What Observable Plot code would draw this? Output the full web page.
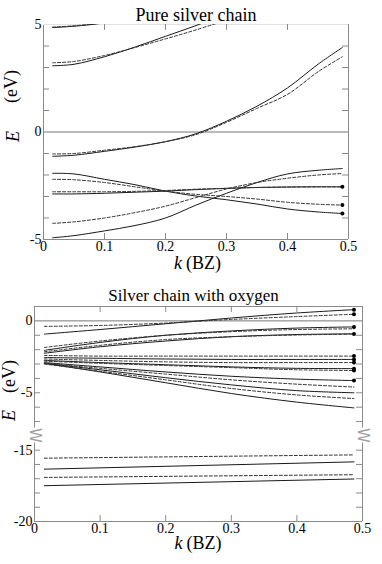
<!DOCTYPE html>
<html><head><meta charset="utf-8">
<script src="https://cdn.jsdelivr.net/npm/d3@7"></script>
<script src="https://cdn.jsdelivr.net/npm/@observablehq/plot@0.6"></script>
<style>
html,body{margin:0;padding:0;background:#fff;}
svg{display:block;}
</style></head><body><div id="chart"></div>
<script>
// ---------- Pure silver chain (top panel) ----------
const kPure = [0.015, 0.05, 0.1, 0.15, 0.2, 0.25, 0.3, 0.35, 0.4, 0.45, 0.49];
const pureHighSolid   = [4.86, 4.92, 5.08, 5.4];
const pureHighDashed  = [4.88, 4.94, 5.1, 5.4];
const pureUpperSolid  = [3.08, 3.15, 3.5, 3.95, 4.45, 4.95, 5.5];
const pureUpperDashed = [3.22, 3.28, 3.56, 3.93, 4.33, 4.75, 5.2];
const pureCondSolid   = [-1.13, -1.08, -0.9, -0.7, -0.45, -0.08, 0.5, 1.2, 2.05, 3.15, 3.93];
const pureCondDashed  = [-1.02, -1.0, -0.85, -0.68, -0.45, -0.12, 0.45, 1.1, 1.75, 2.8, 3.5];
const pureDownSolid   = [-1.92, -1.95, -2.2, -2.45, -2.75, -2.98, -3.15, -3.35, -3.58, -3.72, -3.79];
const pureDownDashed  = [-2.2, -2.22, -2.35, -2.55, -2.75, -2.9, -3.0, -3.12, -3.27, -3.36, -3.4];
const pureFlatSolid   = [-2.88, -2.88, -2.85, -2.8, -2.75, -2.68, -2.62, -2.58, -2.56, -2.55, -2.55];
const pureFlatDashed  = [-2.78, -2.78, -2.78, -2.76, -2.72, -2.66, -2.62, -2.58, -2.56, -2.55, -2.55];
const pureUpSolid     = [-4.92, -4.82, -4.6, -4.35, -4.0, -3.4, -2.85, -2.35, -1.95, -1.78, -1.7];
const pureUpDashed    = [-4.25, -4.18, -4.0, -3.75, -3.45, -3.05, -2.65, -2.35, -2.15, -2.0, -1.93];
const pureYTicks = [5, 0, -5];
const pureYMinor = [-4, -3, -2, -1, 1, 2, 3, 4];

// ---------- Silver chain with oxygen (bottom panel) ----------
const kOxy = [0.015, 0.1, 0.2, 0.3, 0.4, 0.487];
const oxyTopSolid  = [-0.92, -0.6, -0.2, 0.2, 0.55, 0.78];
const oxyTopDashed = [-0.38, -0.32, -0.15, 0.1, 0.3, 0.46];
const oxyU1Solid   = [-2.05, -1.5, -1.0, -0.7, -0.5, -0.42];
const oxyU2Dashed  = [-1.85, -1.4, -1.0, -0.75, -0.6, -0.55];
const oxyU3Solid   = [-2.25, -1.8, -1.4, -1.1, -0.95, -0.9];
const oxyU4Dashed  = [-2.15, -1.7, -1.3, -1.1, -0.98, -0.92];
const oxyM1Dashed  = [-2.4, -2.45, -2.45, -2.45, -2.45, -2.45];
const oxyM2Solid   = [-2.55, -2.6, -2.65, -2.68, -2.68, -2.68];
const oxyM3Dashed  = [-2.65, -2.75, -2.85, -2.9, -2.9, -2.9];
const oxyM4Solid   = [-2.75, -2.9, -3.05, -3.2, -3.3, -3.32];
const oxyM5Dashed  = [-2.8, -2.95, -3.1, -3.25, -3.4, -3.45];
const oxyD1Solid   = [-2.9, -3.2, -3.55, -3.85, -4.05, -4.15];
const oxyD2Dashed  = [-2.95, -3.3, -3.7, -4.1, -4.4, -4.6];
const oxyD3Solid   = [-2.95, -3.4, -3.95, -4.45, -4.85, -5.0];
const oxyD4Dashed  = [-3.0, -3.5, -4.1, -4.7, -5.15, -5.4];
const oxyD5Solid   = [-2.95, -3.55, -4.3, -5.05, -5.65, -6.05];
const kDeep = [0.015, 0.487];
const deep1Dashed = [-15.56, -15.33];
const deep2Solid  = [-16.33, -15.82];
const deep3Dashed = [-16.91, -16.72];
const deep4Solid  = [-17.49, -17.02];
const oxyYTicks = [0, -5, -15, -20];
const oxyYMinor = [-1, -2, -3, -4, -6, -7, -16, -17, -18, -19];
const oxyBreak = [-7.9, -13.9];

const xTicks = [0, 0.1, 0.2, 0.3, 0.4, 0.5];
const xInner = [0.1, 0.2, 0.3, 0.4];

// ---------- build tables ----------
const SERIF = "'Liberation Serif','Times New Roman',serif";
const SVG_STYLE = "font-family: 'Liberation Serif','Times New Roman',serif; font-size: 14px; background: white; color: black; overflow: visible;";
const rows = (ks, vals, band, style) => vals.map((E, i) => ({k: ks[i], E, band, style}));

const pureRows = [
  ...rows(kPure, pureHighSolid, "hS", "s"), ...rows(kPure, pureHighDashed, "hD", "d"),
  ...rows(kPure, pureUpperSolid, "uS", "s"), ...rows(kPure, pureUpperDashed, "uD", "d"),
  ...rows(kPure, pureCondSolid, "cS", "s"), ...rows(kPure, pureCondDashed, "cD", "d"),
  ...rows(kPure, pureDownSolid, "dnS", "s"), ...rows(kPure, pureDownDashed, "dnD", "d"),
  ...rows(kPure, pureFlatSolid, "fS", "s"), ...rows(kPure, pureFlatDashed, "fD", "d"),
  ...rows(kPure, pureUpSolid, "upS", "s"), ...rows(kPure, pureUpDashed, "upD", "d")
];
const lastOf = (ks, vals) => ({k: ks[vals.length - 1], E: vals[vals.length - 1]});
const pureDots = [pureFlatSolid, pureDownDashed, pureDownSolid].map(v => lastOf(kPure, v));

const oxyRows = [
  ...rows(kOxy, oxyTopSolid, "tS", "s"), ...rows(kOxy, oxyTopDashed, "tD", "d"),
  ...rows(kOxy, oxyU1Solid, "u1", "s"), ...rows(kOxy, oxyU2Dashed, "u2", "d"),
  ...rows(kOxy, oxyU3Solid, "u3", "s"), ...rows(kOxy, oxyU4Dashed, "u4", "d"),
  ...rows(kOxy, oxyM1Dashed, "m1", "d"), ...rows(kOxy, oxyM2Solid, "m2", "s"),
  ...rows(kOxy, oxyM3Dashed, "m3", "d"), ...rows(kOxy, oxyM4Solid, "m4", "s"),
  ...rows(kOxy, oxyM5Dashed, "m5", "d"), ...rows(kOxy, oxyD1Solid, "d1", "s"),
  ...rows(kOxy, oxyD2Dashed, "d2", "d"), ...rows(kOxy, oxyD3Solid, "d3", "s"),
  ...rows(kOxy, oxyD4Dashed, "d4", "d"), ...rows(kOxy, oxyD5Solid, "d5", "s"),
  ...rows(kDeep, deep1Dashed, "e1", "d"), ...rows(kDeep, deep2Solid, "e2", "s"),
  ...rows(kDeep, deep3Dashed, "e3", "d"), ...rows(kDeep, deep4Solid, "e4", "s")
];
const oxyDots = [oxyTopSolid, oxyTopDashed, oxyU1Solid, oxyU4Dashed, oxyM1Dashed, oxyM2Solid,
                 oxyM3Dashed, oxyM4Solid, oxyM5Dashed, oxyD1Solid].map(v => lastOf(kOxy, v));

const FRAME = "#8a8a8a";
const fmtX = d => d === 0 ? "0" : d.toFixed(1);
const fmtY = d => String(d);

// ---------- top panel ----------
const topW = 382, topH = 280, tL = 43, tR = 34, tT = 24, tB = 41;
const pxX1 = 0.5 / (topW - tL - tR), pxY1 = 10 / (topH - tT - tB);
const pureChart = Plot.plot({
  width: topW, height: topH,
  marginLeft: tL, marginRight: tR, marginTop: tT, marginBottom: tB,
  x: {domain: [0, 0.5], axis: null},
  y: {domain: [-5, 5], axis: null},
  style: SVG_STYLE,
  marks: [
    Plot.ruleY([0], {stroke: "#777", strokeWidth: 1}),
    Plot.ruleX([0, 0.5], {y1: -5, y2: 5, stroke: FRAME}),
    Plot.ruleY([-5], {x1: 0, x2: 0.5, stroke: FRAME}),
    Plot.ruleY([5], {x1: 0, x2: 0.5, stroke: "#e2e2e2"}),
    Plot.ruleY(pureYMinor, {x1: 0, x2: 6 * pxX1, stroke: FRAME}),
    Plot.ruleY(pureYMinor, {x1: 0.5 - 6 * pxX1, x2: 0.5, stroke: FRAME}),
    Plot.ruleX(xInner, {y1: -5, y2: -5 + 6 * pxY1, stroke: FRAME}),
    Plot.ruleX(xInner, {y1: 5, y2: 5 - 6 * pxY1, stroke: FRAME}),
    Plot.line(pureRows.filter(d => d.style === "s"), {x: "k", y: "E", z: "band", curve: "catmull-rom", stroke: "#1a1a1a", strokeWidth: 1, clip: true}),
    Plot.line(pureRows.filter(d => d.style === "d"), {x: "k", y: "E", z: "band", curve: "catmull-rom", stroke: "#333", strokeWidth: 1, strokeDasharray: "3,2", clip: true}),
    Plot.dot(pureDots, {x: "k", y: "E", r: 2, fill: "black", stroke: "none"}),
    Plot.axisY(pureYTicks, {anchor: "left", label: null, tickSize: 0, tickPadding: 2, tickFormat: fmtY, fontSize: 14}),
    Plot.axisX(xTicks, {anchor: "bottom", label: null, tickSize: 0, tickPadding: 2, tickFormat: fmtX, fontSize: 14}),
    Plot.text(["Pure silver chain"], {frameAnchor: "top", dy: -4, lineAnchor: "bottom", fontSize: 18}),
    Plot.text(["k"], {frameAnchor: "bottom", dx: -14, dy: 29, textAnchor: "end", lineAnchor: "bottom", fontSize: 18, fontStyle: "italic"}),
    Plot.text(["(BZ)"], {frameAnchor: "bottom", dx: -10, dy: 29, textAnchor: "start", lineAnchor: "bottom", fontSize: 18}),
    Plot.text(["(eV)"], {frameAnchor: "left", dx: -32, dy: -29, rotate: -90, lineAnchor: "middle", fontSize: 18}),
    Plot.text(["E"], {frameAnchor: "left", dx: -30, dy: 10, rotate: -90, lineAnchor: "middle", fontSize: 18, fontStyle: "italic"})
  ]
});

// ---------- bottom panel ----------
const botW = 382, botH = 284, bL = 34, bR = 20, bT = 26, bB = 43;
const breakPx = 154;
const pxX2 = 0.5 / (botW - bL - bR), pxY2 = 1 / 14.35;
const oxyChart = Plot.plot({
  width: botW, height: botH,
  marginLeft: bL, marginRight: bR, marginTop: bT, marginBottom: bB,
  x: {domain: [0, 0.5], axis: null},
  y: {type: "linear", domain: [1, oxyBreak[0], oxyBreak[1], -20], range: [bT, breakPx, breakPx, botH - bB], axis: null},
  style: SVG_STYLE,
  marks: [
    Plot.ruleY([0], {stroke: "#777", strokeWidth: 1}),
    Plot.ruleX([0, 0.5], {y1: 1, y2: oxyBreak[0] + 0.45, stroke: FRAME}),
    Plot.ruleX([0, 0.5], {y1: oxyBreak[1] - 0.6, y2: -20, stroke: FRAME}),
    Plot.ruleY([-20, 1], {x1: 0, x2: 0.5, stroke: FRAME}),
    Plot.ruleY(oxyYMinor, {x1: 0, x2: 6 * pxX2, stroke: FRAME}),
    Plot.ruleY(oxyYMinor, {x1: 0.5 - 6 * pxX2, x2: 0.5, stroke: FRAME}),
    Plot.ruleY([-5, -15], {x1: 0, x2: 6 * pxX2, stroke: FRAME}),
    Plot.ruleY([-5, -15], {x1: 0.5 - 6 * pxX2, x2: 0.5, stroke: FRAME}),
    Plot.ruleX(xInner, {y1: -20, y2: -20 + 6 * pxY2, stroke: FRAME}),
    Plot.ruleX(xInner, {y1: 1, y2: 1 - 6 * pxY2, stroke: FRAME}),
    Plot.text([0, 0.5], {x: d => d, y: oxyBreak[0], text: () => "W", rotate: 90, dx: 0.5, dy: 1, fontSize: 15, fill: "#a0a0a0", fontFamily: "DejaVu Sans", lineAnchor: "middle"}),
    Plot.line(oxyRows.filter(d => d.style === "s"), {x: "k", y: "E", z: "band", curve: "catmull-rom", stroke: "#1a1a1a", strokeWidth: 1}),
    Plot.line(oxyRows.filter(d => d.style === "d"), {x: "k", y: "E", z: "band", curve: "catmull-rom", stroke: "#333", strokeWidth: 1, strokeDasharray: "3,2"}),
    Plot.dot(oxyDots, {x: "k", y: "E", r: 2, fill: "black", stroke: "none"}),
    Plot.axisY(oxyYTicks, {anchor: "left", label: null, tickSize: 0, tickPadding: 2, tickFormat: fmtY, fontSize: 14}),
    Plot.axisX(xTicks, {anchor: "bottom", label: null, tickSize: 0, tickPadding: 2, tickFormat: fmtX, fontSize: 14}),
    Plot.text(["Silver chain with oxygen"], {frameAnchor: "top", dx: -5, dy: -6, lineAnchor: "bottom", fontSize: 17}),
    Plot.text(["k"], {frameAnchor: "bottom", dx: -16, dy: 27, textAnchor: "end", lineAnchor: "bottom", fontSize: 18, fontStyle: "italic"}),
    Plot.text(["(BZ)"], {frameAnchor: "bottom", dx: -12, dy: 27, textAnchor: "start", lineAnchor: "bottom", fontSize: 18}),
    Plot.text(["(eV)"], {frameAnchor: "left", dx: -25, dy: -21, rotate: -90, lineAnchor: "middle", fontSize: 18}),
    Plot.text(["E"], {frameAnchor: "left", dx: -25, dy: 7, rotate: -90, lineAnchor: "middle", fontSize: 18, fontStyle: "italic"})
  ]
});

// serif for every text except the break glyphs
for (const svg of [pureChart, oxyChart]) {
  svg.setAttribute("font-family", SERIF);
  svg.querySelectorAll("g").forEach(g => {
    if (g.getAttribute("font-family") && !/DejaVu/.test(g.getAttribute("font-family"))) g.setAttribute("font-family", SERIF);
  });
  svg.querySelectorAll("text").forEach(t => {
    const ff = t.getAttribute("font-family") || (t.parentNode && t.parentNode.getAttribute && t.parentNode.getAttribute("font-family")) || "";
    if (!/DejaVu/.test(ff)) t.style.fontFamily = SERIF;
  });
}

const chart = document.getElementById("chart");
chart.appendChild(pureChart);
chart.appendChild(oxyChart);
</script>
</body></html>
